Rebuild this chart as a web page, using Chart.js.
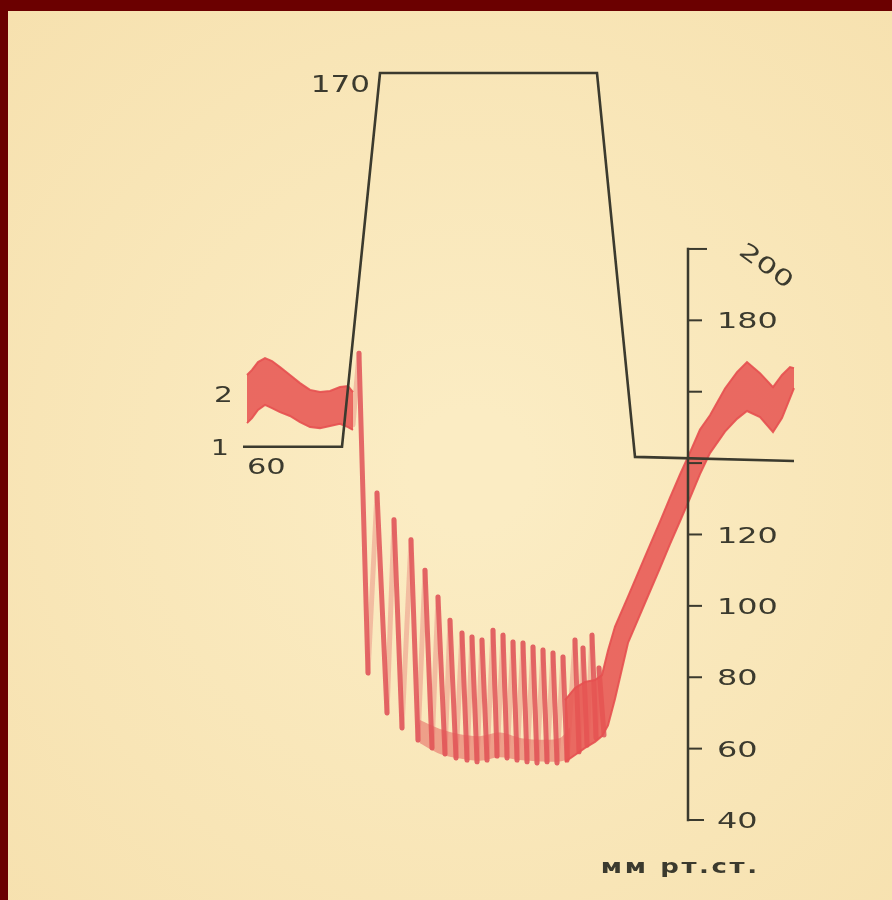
<!DOCTYPE html>
<html>
<head>
<meta charset="utf-8">
<script src="https://cdn.jsdelivr.net/npm/chart.js@4.4.1/dist/chart.umd.min.js"></script>
<style>
html,body{margin:0;padding:0;background:#6b0000;}
#wrap{width:892px;height:900px;position:relative;}
canvas{display:block;}
</style>
</head>
<body>
<div id="wrap"><canvas id="c"></canvas></div>
<script>
// ---- Curve 1: chamber pressure (own scale: 60 ... 170) ----
const chamberX = [0.6, 20.4, 28.0, 71.4, 79.0, 110.8];
const chamberP = [60, 60, 170, 170, 57, 55.8];
const chamberLabels = ['60', '170'];
const curveNames = ['1', '2'];

// ---- Curve 2: arterial pressure, mm Hg ----
// band before compression
const bandLeftX    = [1.4, 2.4, 3.6, 5.0, 6.4, 8.0, 10.0, 12.0, 14.0, 16.0, 18.0, 20.0, 21.6, 22.6];
const bandLeftHigh = [164.7, 166.1, 168.3, 169.4, 168.6, 166.9, 164.7, 162.4, 160.5, 159.9, 160.2, 161.3, 161.6, 159.9];
const bandLeftLow  = [151.2, 152.6, 154.9, 156.3, 155.4, 154.3, 153.2, 151.5, 150.1, 149.8, 150.4, 151.0, 150.1, 149.3];

// pulse waves during compression (trough / peak sequence)
const pulseX = [22.6, 23.8, 25.6, 27.4, 29.4, 30.8, 32.4, 34.2, 35.6, 37.0, 38.4, 39.6, 41.0, 42.0, 43.2,
                44.4, 45.4, 46.4, 47.4, 48.4, 49.4, 50.6, 51.4, 52.6, 53.4, 54.6, 55.4, 56.6, 57.4, 58.6,
                59.4, 60.6, 61.4, 62.6, 63.4, 64.6, 65.4, 67.0, 67.8, 68.6, 69.4, 70.4, 71.2, 71.8, 72.8];
const pulseP = [150.7, 170.8, 81.2, 131.6, 70.0, 124.1, 65.8, 118.5, 62.4, 110.0, 60.2, 102.5, 58.5, 96.0, 57.4,
                92.4, 56.8, 91.3, 56.3, 90.4, 56.8, 93.2, 57.9, 91.8, 57.4, 89.9, 56.8, 89.6, 56.3, 88.5,
                56.0, 87.6, 56.3, 86.8, 56.0, 85.7, 56.8, 90.4, 59.1, 88.2, 61.0, 91.8, 63.0, 82.6, 63.8];

// dense diastolic part of the pulse record
const floorX    = [36.0, 40.0, 44.0, 48.0, 52.0, 56.0, 60.0, 64.0, 66.0];
const floorHigh = [68.0, 65.5, 64.0, 63.5, 64.5, 63.0, 62.5, 63.0, 66.0];
const floorLow  = [61.5, 58.5, 57.2, 56.6, 57.6, 56.8, 56.4, 56.4, 57.2];

// band after release
const bandRightX    = [65.0, 67.0, 69.0, 71.0, 72.4, 73.6, 75.0, 77.6, 81.0, 84.0, 86.0, 88.0, 90.0, 92.0, 94.0,
                       97.0, 99.4, 101.4, 104.0, 106.6, 108.4, 110.0, 110.8];
const bandRightHigh = [73.6, 77.0, 78.7, 79.2, 80.6, 87.5, 94.2, 102.6, 113.8, 123.6, 130.3, 136.8, 143.0, 149.4, 153.4,
                       160.9, 165.5, 168.3, 165.2, 161.3, 164.7, 166.9, 166.6];
const bandRightLow  = [56.3, 58.2, 60.2, 61.9, 63.5, 66.5, 73.9, 89.6, 100.8, 110.6, 117.3, 123.7, 130.2, 136.9, 142.8,
                       148.8, 152.4, 154.6, 152.9, 148.7, 152.6, 158.2, 161.0];

// right axis
const bpAxisAt = 89.6;
const bpTicks = [40, 60, 80, 100, 120, 140, 160, 180, 200];
const bpTickLabels = ['40', '60', '80', '100', '120', '', '', '180', '200'];
const unitLabel = 'мм рт.ст.';

const ink = '#3b3a2e';
const red = 'rgba(230,80,80,0.9)';
const redFill = 'rgba(231,84,82,0.86)';
const redSoft = 'rgba(228,86,86,0.5)';
const redSpike = 'rgba(224,84,88,0.86)';
const redFaint = 'rgba(224,84,88,0.3)';

function pts(xs, ys) { return xs.map((x, i) => ({x: x, y: ys[i]})); }

function drawText(ctx, txt, x, y, size, align, sx, weight, ls) {
  ctx.save();
  ctx.font = (weight || 'normal') + ' ' + size + 'px "DejaVu Sans"';
  ctx.letterSpacing = (ls || 0) + 'px';
  ctx.textBaseline = 'alphabetic';
  ctx.textAlign = 'left';
  const w = (ctx.measureText(txt).width - (ls || 0)) * sx;
  const x0 = align === 'right' ? x - w : (align === 'center' ? x - w / 2 : x);
  ctx.translate(x0, y + 0.365 * size);
  ctx.scale(sx, 1);
  ctx.fillStyle = ink;
  ctx.fillText(txt, 0, 0);
  ctx.restore();
}

const paperPlugin = {
  id: 'paper',
  beforeDraw(chart) {
    const ctx = chart.ctx;
    ctx.save();
    ctx.fillStyle = '#6b0000';
    ctx.fillRect(0, 0, chart.width, chart.height);
    const g = ctx.createRadialGradient(470, 470, 60, 470, 470, 700);
    g.addColorStop(0, '#fbecc3');
    g.addColorStop(1, '#f6e0ad');
    ctx.fillStyle = g;
    ctx.fillRect(8, 11, chart.width - 8, chart.height - 11);
    ctx.restore();
  }
};

const annotPlugin = {
  id: 'annot',
  afterDatasetsDraw(chart) {
    const ctx = chart.ctx;
    const xs = chart.scales.x, ys = chart.scales.y, yp = chart.scales.yP;
    ctx.save();
    // right mm Hg axis
    const ax = xs.getPixelForValue(bpAxisAt);
    ctx.strokeStyle = ink;
    ctx.lineWidth = 2.5;
    ctx.lineCap = 'butt';
    ctx.beginPath();
    ctx.moveTo(ax, ys.getPixelForValue(bpTicks[0]) + 1.2);
    ctx.lineTo(ax, ys.getPixelForValue(bpTicks[bpTicks.length - 1]) - 1.2);
    ctx.stroke();
    bpTicks.forEach((v, i) => {
      const y = ys.getPixelForValue(v);
      const len = (i === bpTicks.length - 1) ? 19 : (i === 0 ? 16 : 14);
      ctx.beginPath();
      ctx.lineWidth = 2;
      ctx.moveTo(ax - 1, y);
      ctx.lineTo(ax + len, y);
      ctx.stroke();
      const lab = bpTickLabels[i];
      if (!lab) return;
      if (i === bpTicks.length - 1) {
        ctx.save();
        ctx.translate(ax + 79, y + 16);
        ctx.rotate(0.62);
        drawText(ctx, lab, 0, 0, 22, 'center', 1.45, 'normal', 0);
        ctx.restore();
      } else {
        drawText(ctx, lab, ax + 29, y, 22, 'left', 1.45, 'normal', 0);
      }
    });
    // unit label
    drawText(ctx, unitLabel, ax - 9, ys.getPixelForValue(bpTicks[0]) + 46, 20, 'center', 1.3, 'bold', 2);

    // chamber curve labels
    const x0 = xs.getPixelForValue(chamberX[0]);
    const yLow = yp.getPixelForValue(chamberP[0]);
    drawText(ctx, curveNames[0], x0 - 14, yLow, 22, 'right', 1.3, 'normal', 0);
    drawText(ctx, chamberLabels[0], x0 + 4, yLow + 20, 21, 'left', 1.45, 'normal', 0);
    const xTop = xs.getPixelForValue(chamberX[2]);
    const yTop = yp.getPixelForValue(chamberP[2]);
    drawText(ctx, chamberLabels[1], xTop - 10, yTop + 11, 23, 'right', 1.35, 'normal', 0);
    // curve 2 name
    const xb = xs.getPixelForValue(bandLeftX[0]);
    const yb = ys.getPixelForValue((bandLeftHigh[0] + bandLeftLow[0]) / 2 + 1.5);
    drawText(ctx, curveNames[1], xb - 14, yb, 22, 'right', 1.35, 'normal', 0);
    ctx.restore();
  }
};

new Chart(document.getElementById('c'), {
  type: 'line',
  data: {
    datasets: [
      {label: 'chamber', data: pts(chamberX, chamberP), yAxisID: 'yP',
       borderColor: ink, borderWidth: 2.6, pointRadius: 0, fill: false, tension: 0},
      {label: 'bpLeftHigh', data: pts(bandLeftX, bandLeftHigh), yAxisID: 'y',
       borderColor: red, borderWidth: 2, pointRadius: 0, fill: false, tension: 0},
      {label: 'bpLeftLow', data: pts(bandLeftX, bandLeftLow), yAxisID: 'y',
       borderColor: red, borderWidth: 2, pointRadius: 0, fill: '-1', backgroundColor: redFill, tension: 0},
      {label: 'bpRightHigh', data: pts(bandRightX, bandRightHigh), yAxisID: 'y',
       borderColor: red, borderWidth: 2, pointRadius: 0, fill: false, tension: 0},
      {label: 'bpRightLow', data: pts(bandRightX, bandRightLow), yAxisID: 'y',
       borderColor: red, borderWidth: 2, pointRadius: 0, fill: '-1', backgroundColor: redFill, tension: 0},
      {label: 'floorHigh', data: pts(floorX, floorHigh), yAxisID: 'y',
       borderColor: 'rgba(0,0,0,0)', borderWidth: 0, pointRadius: 0, fill: false, tension: 0.3},
      {label: 'floorLow', data: pts(floorX, floorLow), yAxisID: 'y',
       borderColor: 'rgba(0,0,0,0)', borderWidth: 0, pointRadius: 0, fill: '-1', backgroundColor: redSoft, tension: 0.3},
      {label: 'pulse', data: pts(pulseX, pulseP), yAxisID: 'y',
       borderColor: redSpike, borderWidth: 5, pointRadius: 0, fill: false, tension: 0,
       borderJoinStyle: 'round', borderCapStyle: 'round',
       segment: {borderColor: c => (c.p1.parsed.y > c.p0.parsed.y ? redFaint : redSpike)}}
    ]
  },
  options: {
    responsive: true,
    maintainAspectRatio: false,
    animation: false,
    layout: {padding: {left: 240, right: 92, top: 52.65, bottom: 62.15}},
    plugins: {legend: {display: false}, tooltip: {enabled: false}},
    scales: {
      x: {type: 'linear', min: 0, max: 112, display: false},
      y: {type: 'linear', min: 35, max: 255, display: false},
      yP: {type: 'linear', min: -55.15, max: 176, display: false}
    }
  },
  plugins: [paperPlugin, annotPlugin]
});
</script>
</body>
</html>
